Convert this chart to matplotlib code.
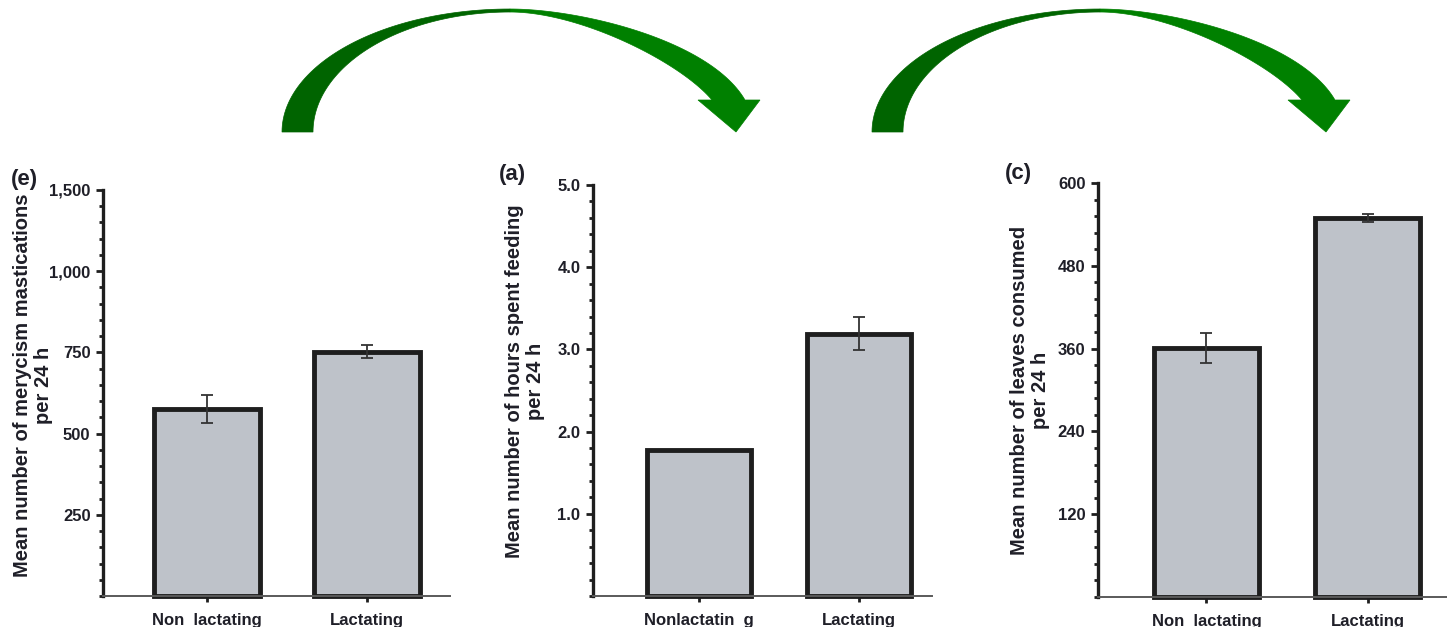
import numpy as np
import matplotlib.pyplot as plt
from matplotlib.patches import Polygon
from matplotlib.ticker import MultipleLocator

plt.rcParams['font.family'] = ['Liberation Sans', 'DejaVu Sans']
plt.rcParams['font.weight'] = 'bold'

W, H = 1447, 627

# panel (e) - merycism mastications
e_groups = ["Non  lactating", "Lactating"]
e_means = [575, 752]
e_err = [43, 20]
e_ticks = [250, 500, 750, 1000, 1250]
e_ticklabels = ["250", "500", "750", "1,000", "1,500"]   # top label is 1,500 in the source

# panel (a) - hours spent feeding
a_groups = ["Nonlactatin  g", "Lactating"]
a_means = [1.78, 3.19]
a_err = [0.0, 0.2]
a_ticks = [1.0, 2.0, 3.0, 4.0, 5.0]
a_ticklabels = ["1.0", "2.0", "3.0", "4.0", "5.0"]

# panel (c) - leaves consumed
c_groups = ["Non  lactating", "Lactating"]
c_means = [361, 549]
c_err = [22, 6]
c_ticks = [120, 240, 360, 480, 600]
c_ticklabels = ["120", "240", "360", "480", "600"]

BAR = "#bec2c9"
EDGE = "#1e1e1e"
TXT = "#1f1f28"

fig = plt.figure(figsize=(W / 100, H / 100), dpi=100)


def px_axes(x0, x1, ytop, ybot):
    return fig.add_axes([x0 / W, 1 - ybot / H, (x1 - x0) / W, (ybot - ytop) / H])


def panel(ax, groups, means, err, ticks, labels, ymax, minor, xlim, width):
    x = np.arange(len(groups))
    bars = ax.bar(x, means, width=width, color=BAR, edgecolor=EDGE, linewidth=3.5, zorder=2)
    for b in bars:
        b.set_clip_on(False)
    for xi, m, e in zip(x, means, err):
        if e > 0:
            ax.errorbar(xi, m, yerr=e, fmt='none', ecolor="#333333", elinewidth=1.3,
                        capsize=4, capthick=1.3, zorder=3)
    ax.set_xlim(*xlim)
    ax.set_ylim(0, ymax)
    ax.set_yticks(ticks)
    ax.set_yticklabels(labels)
    ax.yaxis.set_minor_locator(MultipleLocator(minor))
    ax.set_xticks(x)
    ax.set_xticklabels(groups)
    for s in ("top", "right"):
        ax.spines[s].set_visible(False)
    ax.spines["left"].set_linewidth(2.4)
    ax.spines["left"].set_color(EDGE)
    ax.spines["bottom"].set_linewidth(1.4)
    ax.spines["bottom"].set_color("#5a5a5a")
    ax.tick_params(axis="y", which="major", direction="out", length=5, width=2,
                   color=EDGE, labelsize=12, labelcolor=TXT, pad=4)
    ax.tick_params(axis="y", which="minor", direction="out", length=3, width=2, color=EDGE)
    ax.tick_params(axis="x", which="major", direction="out", length=4, width=2,
                   color=EDGE, labelsize=12, labelcolor=TXT, pad=8)
    for t in ax.get_xticklabels() + ax.get_yticklabels():
        t.set_fontweight("bold")


ax_e = px_axes(103, 450, 190, 596)
panel(ax_e, e_groups, e_means, e_err, e_ticks, e_ticklabels, 1250, 50, (-0.65, 1.52), 0.66)

ax_a = px_axes(593, 932, 185, 596)
panel(ax_a, a_groups, a_means, a_err, a_ticks, a_ticklabels, 5.0, 0.2, (-0.6625, 1.456), 0.65)

ax_c = px_axes(1098, 1447, 183, 597)
panel(ax_c, c_groups, c_means, c_err, c_ticks, c_ticklabels, 600, 24, (-0.672, 1.49), 0.65)


def ftext(x, y, s, **kw):
    fig.text(x / W, 1 - y / H, s, color=TXT, fontweight="bold", **kw)


ftext(33, 385, "Mean number of merycism mastications\nper 24 h", rotation=90,
      ha="center", va="center", fontsize=14.5, multialignment="center", linespacing=1.1)
ftext(525, 381, "Mean number of hours spent feeding\nper 24 h", rotation=90,
      ha="center", va="center", fontsize=14.5, multialignment="center", linespacing=1.1)
ftext(1030, 390, "Mean number of leaves consumed\nper 24 h", rotation=90,
      ha="center", va="center", fontsize=14.5, multialignment="center", linespacing=1.1)

ftext(24, 180, "(e)", ha="center", va="center", fontsize=16)
ftext(512, 175, "(a)", ha="center", va="center", fontsize=16)
ftext(1018, 173, "(c)", ha="center", va="center", fontsize=16)


def bezier(p0, p1, p2, p3, n=60):
    t = np.linspace(0, 1, n)[:, None]
    p0, p1, p2, p3 = map(np.asarray, (p0, p1, p2, p3))
    return ((1 - t) ** 3) * p0 + 3 * ((1 - t) ** 2) * t * p1 + 3 * (1 - t) * t ** 2 * p2 + t ** 3 * p3


# curved green arrows between panels
def arrow(dx):
    cx, cy = 510 + dx, 132
    tl = np.linspace(np.pi, np.pi / 2, 60)          # left bottom -> top
    outer_l = np.c_[cx + 228 * np.cos(tl), cy - 123 * np.sin(tl)]
    inner_l = np.c_[cx + 197 * np.cos(tl[::-1]), cy - 120 * np.sin(tl[::-1])]
    outer_r = bezier((510 + dx, 9), (580 + dx, 9), (710 + dx, 40), (745 + dx, 100))
    inner_r = bezier((712 + dx, 100), (680 + dx, 62), (580 + dx, 12), (510 + dx, 12))
    head = np.array([[760 + dx, 100], [736 + dx, 132], [698 + dx, 100]])
    left = np.vstack([outer_l, inner_l])
    right = np.vstack([outer_r, head, inner_r])
    for pts, col in ((right, "#008000"), (left, "#006400")):
        p = np.c_[pts[:, 0] / W, 1 - pts[:, 1] / H]
        fig.add_artist(Polygon(p, closed=True, facecolor=col, edgecolor=col,
                               linewidth=0.5, transform=fig.transFigure))


arrow(0)
arrow(590)

fig.savefig("out.png", dpi=100)
